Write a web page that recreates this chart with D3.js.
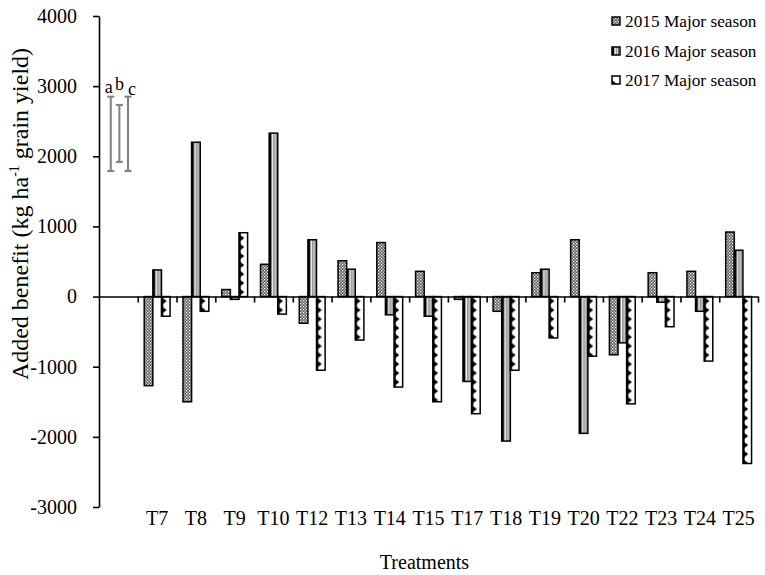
<!DOCTYPE html>
<html>
<head>
<meta charset="utf-8">
<script src="https://cdn.jsdelivr.net/npm/d3@7"></script>
<style>
  html, body { margin: 0; padding: 0; background: #fff; }
  svg { display: block; font-family: "Liberation Serif", "Times New Roman", serif; }
</style>
</head>
<body>
<svg id="chart" width="765" height="575"></svg>
<script>
(function () {
// ---- data ----
const categories = ["T7","T8","T9","T10","T12","T13","T14","T15","T17","T18","T19","T20","T22","T23","T24","T25"];
const seriesNames = ["2015 Major season","2016 Major season","2017 Major season"];
const values2015 = [-1270,-1500,100,460,-380,510,770,360,-40,-210,340,810,-830,340,360,920];
const values2016 = [380,2200,-40,2330,810,390,-260,-280,-1210,-2060,390,-1950,-660,-80,-210,660];
const values2017 = [-280,-210,910,-250,-1050,-620,-1290,-1500,-1670,-1050,-590,-850,-1530,-430,-920,-2380];
const yTicks = [-3000,-2000,-1000,0,1000,2000,3000,4000];
const errLabels = ["a","b","c"];
const errHigh = [2850,2730,2850];
const errLow = [1790,1920,1790];
const xTitle = "Treatments";

// ---- layout ----
const svg = d3.select("#chart");
const mLeft = 99, mRight = 758, mTop = 16, mBottom = 507;
const allCats = [""].concat(categories);
const x0 = d3.scaleBand().domain(allCats).range([mLeft, mRight]).paddingInner(0).paddingOuter(0);
const step = x0.step();
const x1 = d3.scaleBand().domain(seriesNames).range([0, step]).paddingInner(0).paddingOuter(0.75);
const bw = x1.bandwidth();
const y = d3.scaleLinear().domain([-3000, 4000]).range([mBottom, mTop]);

const defs = svg.append("defs");
// 2015: speckled gray
const p15 = defs.append("pattern").attr("id","p2015").attr("patternUnits","userSpaceOnUse")
  .attr("width",3).attr("height",3);
p15.append("rect").attr("width",3).attr("height",3).attr("fill","#5a5a5a");
p15.append("rect").attr("x",0).attr("y",0).attr("width",1.3).attr("height",1.3).attr("fill","#fff");
p15.append("rect").attr("x",1.5).attr("y",1.5).attr("width",1.3).attr("height",1.3).attr("fill","#e0e0e0");

function stripePattern(id, ox, w, period) {
  const p = defs.append("pattern").attr("id", id).attr("patternUnits","userSpaceOnUse")
    .attr("x", ox).attr("y", 0).attr("width", period).attr("height", 10);
  p.append("rect").attr("width", period).attr("height", 10).attr("fill","#fff");
  p.append("rect").attr("x",0).attr("width", w*0.28).attr("height",10).attr("fill","#000");
  p.append("rect").attr("x", w*0.45).attr("width", w*0.22).attr("height",10).attr("fill","#9a9a9a");
  p.append("rect").attr("x", w*0.78).attr("width", w*0.08).attr("height",10).attr("fill","#000");
}
function trianglePattern(id, ox, w, period) {
  const p = defs.append("pattern").attr("id", id).attr("patternUnits","userSpaceOnUse")
    .attr("x", ox).attr("y", y(0)).attr("width", period).attr("height", 9);
  p.append("rect").attr("width", period).attr("height", 9).attr("fill","#fff");
  p.append("rect").attr("x",0).attr("width", w*0.2).attr("height",9).attr("fill","#000");
  p.append("path").attr("d", `M0,0.5 L${w*0.62},4.5 L0,8.5 Z`).attr("fill","#000");
}
stripePattern("p2016", mLeft + x1(seriesNames[1]), bw, step);
trianglePattern("p2017", mLeft + x1(seriesNames[2]), bw, step);

const fills = ["url(#p2015)","url(#p2016)","url(#p2017)"];

// ---- bars ----
const seriesVals = [values2015, values2016, values2017];
const rows = [];
categories.forEach((c, i) => {
  seriesNames.forEach((s, j) => rows.push({cat: c, s, j, v: seriesVals[j][i]}));
});
svg.append("g").selectAll("rect").data(rows).join("rect")
  .attr("x", d => x0(d.cat) + x1(d.s))
  .attr("y", d => y(Math.max(0, d.v)))
  .attr("width", bw)
  .attr("height", d => Math.abs(y(d.v) - y(0)))
  .attr("fill", d => fills[d.j])
  .attr("stroke", "#000")
  .attr("stroke-width", 1.5);

// ---- axes ----
const yAxis = d3.axisLeft(y).tickValues(yTicks).tickSizeInner(6).tickSizeOuter(0).tickPadding(16)
  .tickFormat(d => String(d));
const gy = svg.append("g").attr("transform", `translate(${mLeft},0)`).call(yAxis);
gy.select(".domain").attr("stroke","#000").attr("stroke-width",1.6);
gy.selectAll(".tick line").attr("stroke","#000").attr("stroke-width",1.6);
gy.selectAll("text").attr("font-size", 20).attr("fill","#000")
  .attr("font-family","Liberation Serif, Times New Roman, serif");

const xl = d3.scaleLinear().domain([0, allCats.length]).range([mLeft, mRight]);
const xAxisLine = d3.axisBottom(xl).tickValues(d3.range(1, allCats.length + 1)).tickSizeInner(6).tickSizeOuter(0).tickFormat("");
const gx = svg.append("g").attr("transform", `translate(0,${y(0)})`).call(xAxisLine);
gx.select(".domain").attr("stroke","#000").attr("stroke-width",1.6);
gx.selectAll(".tick line").attr("stroke","#000").attr("stroke-width",1.6);

const xLab = d3.axisBottom(x0).tickValues(categories).tickSize(0).tickPadding(4);
const gxl = svg.append("g").attr("transform", `translate(0,${mBottom})`).call(xLab);
gxl.select(".domain").remove();
gxl.selectAll("text").attr("font-size", 20).attr("fill","#000")
  .attr("font-family","Liberation Serif, Times New Roman, serif");

svg.append("text").attr("x", (mLeft + mRight) / 2 - 4).attr("y", 569)
  .attr("text-anchor","middle").attr("font-size", 20).text(xTitle);

const yt = svg.append("text").attr("transform", "translate(28,214) rotate(-90)")
  .attr("text-anchor","middle").attr("font-size", 24);
yt.append("tspan").text("Added benefit (kg ha");
yt.append("tspan").attr("font-size", 14).attr("dy", -9).text("-1");
yt.append("tspan").attr("dy", 9).text(" grain yield)");

// ---- error bars (LSD) ----
const eg = svg.append("g");
errLabels.forEach((lab, i) => {
  const cx = mLeft + x1(seriesNames[i]) + bw / 2 + 1;
  eg.append("line").attr("x1", cx).attr("x2", cx).attr("y1", y(errHigh[i])).attr("y2", y(errLow[i]))
    .attr("stroke","#7f7f7f").attr("stroke-width", 2);
  [errHigh[i], errLow[i]].forEach(v => {
    eg.append("line").attr("x1", cx - 3.5).attr("x2", cx + 3.5).attr("y1", y(v)).attr("y2", y(v))
      .attr("stroke","#7f7f7f").attr("stroke-width", 2);
  });
});
const letterDx = [-2, 0, 4], letterBase = [93, 90, 95];
errLabels.forEach((lab, i) => {
  const cx = mLeft + x1(seriesNames[i]) + bw / 2 + 1;
  eg.append("text").attr("x", cx + letterDx[i]).attr("y", letterBase[i]).attr("text-anchor","middle")
    .attr("font-size", 18).text(lab);
});

// ---- legend ----
const lgX = 612, lgY = [21, 51, 80], sw = 8;
stripePattern("l2016", lgX, sw, 100);
const pl = defs.append("pattern").attr("id","l2017").attr("patternUnits","userSpaceOnUse")
  .attr("x", lgX).attr("y", lgY[2] - sw/2).attr("width", 100).attr("height", sw);
pl.append("rect").attr("width",100).attr("height",sw).attr("fill","#fff");
pl.append("path").attr("d", `M0,${sw*0.5} L${sw*0.6},${sw} L0,${sw} Z`).attr("fill","#000");
const legendFills = ["url(#p2015)","url(#l2016)","url(#l2017)"];
const lg = svg.append("g");
seriesNames.forEach((s, i) => {
  lg.append("rect").attr("x", lgX).attr("y", lgY[i] - sw/2).attr("width", sw).attr("height", sw)
    .attr("fill", legendFills[i]).attr("stroke","#000").attr("stroke-width",1.5);
  lg.append("text").attr("x", lgX + 13).attr("y", lgY[i] + 6).attr("font-size", 17.3).text(s);
});
})();
</script>
</body>
</html>
